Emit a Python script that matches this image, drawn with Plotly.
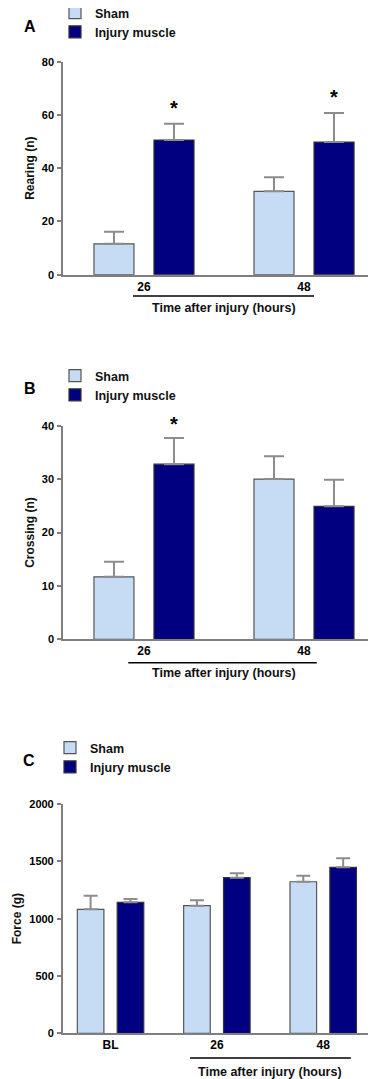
import plotly.graph_objects as go

# ---------------- data ----------------
cats_ab = ["26", "48"]
cats_c = ["BL", "26", "48"]

rearing_sham = [11.6, 31.3]
rearing_sham_err = [4.5, 5.3]
rearing_inj = [50.6, 49.8]
rearing_inj_err = [6.1, 10.9]

crossing_sham = [11.7, 30.0]
crossing_sham_err = [2.8, 4.3]
crossing_inj = [32.8, 24.9]
crossing_inj_err = [4.9, 5.0]

force_sham = [1081, 1113, 1322]
force_sham_err = [119, 47, 52]
force_inj = [1142, 1357, 1448]
force_inj_err = [29, 38, 78]

sig_a = [0, 1]   # indices of injury bars with asterisk in panel A
sig_b = [0]      # panel B

# the page body adds an 8px margin, so the figure is offset by 8px
OFF = 8
W, H = 376 - OFF, 1079 - OFF
FONT = "Liberation Sans, Arial, sans-serif"
SHAM_C = "#c6dbf4"
INJ_C = "#000080"
ERR_C = "#8c8c8c"
AX_C = "#7f7f7f"


def px_x(p):
    return (p - OFF) / W


def px_y(p):
    return 1 - (p - OFF) / H


fig = go.Figure()

panels = [
    dict(ax="", cats=cats_ab, s=rearing_sham, se=rearing_sham_err, i=rearing_inj, ie=rearing_inj_err,
         leg="legend", capw=10),
    dict(ax="2", cats=cats_ab, s=crossing_sham, se=crossing_sham_err, i=crossing_inj, ie=crossing_inj_err,
         leg="legend2", capw=10),
    dict(ax="3", cats=cats_c, s=force_sham, se=force_sham_err, i=force_inj, ie=force_inj_err,
         leg="legend3", capw=7),
]

for p in panels:
    xa, ya = "x" + p["ax"], "y" + p["ax"]
    n = len(p["cats"])
    fig.add_trace(go.Bar(
        x=list(range(n)), y=p["s"], name="Sham", xaxis=xa, yaxis=ya,
        offset=-0.3125, width=0.25,
        marker=dict(color=SHAM_C, line=dict(color="#555555", width=1.2)),
        error_y=dict(type="data", array=p["se"], arrayminus=[0] * n, symmetric=False,
                     color=ERR_C, thickness=2, width=p["capw"]),
        legend=p["leg"], showlegend=True,
    ))
    fig.add_trace(go.Bar(
        x=list(range(n)), y=p["i"], name="Injury muscle", xaxis=xa, yaxis=ya,
        offset=0.0625, width=0.25,
        marker=dict(color=INJ_C, line=dict(color="#333333", width=1.2)),
        error_y=dict(type="data", array=p["ie"], arrayminus=[0] * n, symmetric=False,
                     color=ERR_C, thickness=2, width=p["capw"]),
        legend=p["leg"], showlegend=True,
    ))

tickfont = dict(family=FONT, size=11, color="black", weight="bold")
titlefont = dict(family=FONT, size=12, color="#111111", weight="bold")

common_x = dict(showline=True, linecolor=AX_C, linewidth=1.5, ticks="", showgrid=False,
                zeroline=False, tickfont=dict(family=FONT, size=12, color="black", weight="bold"),
                fixedrange=True, automargin=False)
common_y = dict(showline=True, linecolor=AX_C, linewidth=1.5, ticks="outside", ticklen=4,
                tickcolor=AX_C, tickwidth=1.5, showgrid=False, zeroline=False,
                tickfont=tickfont, fixedrange=True, ticklabelstandoff=1, automargin=False)

fig.update_layout(
    width=W, height=H, autosize=False,
    margin=dict(l=0, r=0, t=0, b=0, pad=0, autoexpand=False),
    plot_bgcolor="white", paper_bgcolor="white",
    barmode="overlay",
    font=dict(family=FONT),
    xaxis=dict(domain=[px_x(63), px_x(373)], anchor="y", range=[-0.506, 1.431],
               tickvals=[0, 1], ticktext=cats_ab, **common_x),
    yaxis=dict(domain=[px_y(274.7), px_y(61.7)], anchor="x", range=[0, 80], dtick=20,
               title=dict(text="Rearing (n)", font=titlefont, standoff=5), **common_y),
    xaxis2=dict(domain=[px_x(63), px_x(376)], anchor="y2", range=[-0.506, 1.45],
                tickvals=[0, 1], ticktext=cats_ab, **common_x),
    yaxis2=dict(domain=[px_y(639.3), px_y(425.7)], anchor="x2", range=[0, 40], dtick=10,
                title=dict(text="Crossing (n)", font=titlefont, standoff=5), **common_y),
    xaxis3=dict(domain=[px_x(62.7), px_x(370)], anchor="y3", range=[-0.45, 2.44],
                tickvals=[0, 1, 2], ticktext=cats_c, **common_x),
    yaxis3=dict(domain=[px_y(1033.3), px_y(804)], anchor="x3", range=[0, 2000], dtick=500,
                title=dict(text="Force (g)", font=titlefont, standoff=5), **common_y),
)

legfont = dict(family=FONT, size=12.5, color="#111111", weight="bold")
for name, ytop, xl in [("legend", -2, 55), ("legend2", 361, 55), ("legend3", 733, 50)]:
    fig.layout[name] = dict(x=px_x(xl), y=px_y(ytop), xanchor="left", yanchor="top",
                            font=legfont, bgcolor="rgba(0,0,0,0)", tracegroupgap=0,
                            itemclick=False, itemdoubleclick=False)

# panel letters
for letter, xx, yy in [("A", 30, 26), ("B", 30, 388), ("C", 29, 760)]:
    fig.add_annotation(text=letter, x=px_x(xx), y=px_y(yy), xref="paper", yref="paper",
                       xanchor="center", yanchor="middle", showarrow=False,
                       font=dict(family=FONT, size=16, color="black", weight="bold"))

# significance asterisks
for idx in sig_a:
    fig.add_annotation(text="*", x=idx + 0.1875, y=rearing_inj[idx] + rearing_inj_err[idx],
                       xref="x", yref="y", xanchor="center", yanchor="bottom", yshift=3,
                       showarrow=False, font=dict(family=FONT, size=20, color="black", weight="bold"))
for idx in sig_b:
    fig.add_annotation(text="*", x=idx + 0.1875, y=crossing_inj[idx] + crossing_inj_err[idx],
                       xref="x2", yref="y2", xanchor="center", yanchor="bottom", yshift=1,
                       showarrow=False, font=dict(family=FONT, size=20, color="black", weight="bold"))

# "Time after injury" grouping lines and titles
for xr, x0, x1, xc, yl, yt in [("x", -0.069, 1.0625, 0.5, 296, 308),
                               ("x2", -0.098, 1.08, 0.5, 662.7, 673),
                               ("x3", 0.748, 2.26, 1.5, 1058, 1071.7)]:
    fig.add_shape(type="line", xref=xr, yref="paper", x0=x0, x1=x1, y0=px_y(yl), y1=px_y(yl),
                  line=dict(color="black", width=1.5))
    fig.add_annotation(text="Time after injury (hours)", x=xc, y=px_y(yt), xref=xr, yref="paper",
                       xanchor="center", yanchor="middle", showarrow=False,
                       font=dict(family=FONT, size=12.5, color="#111111", weight="bold"))

fig.write_html("out.html")
